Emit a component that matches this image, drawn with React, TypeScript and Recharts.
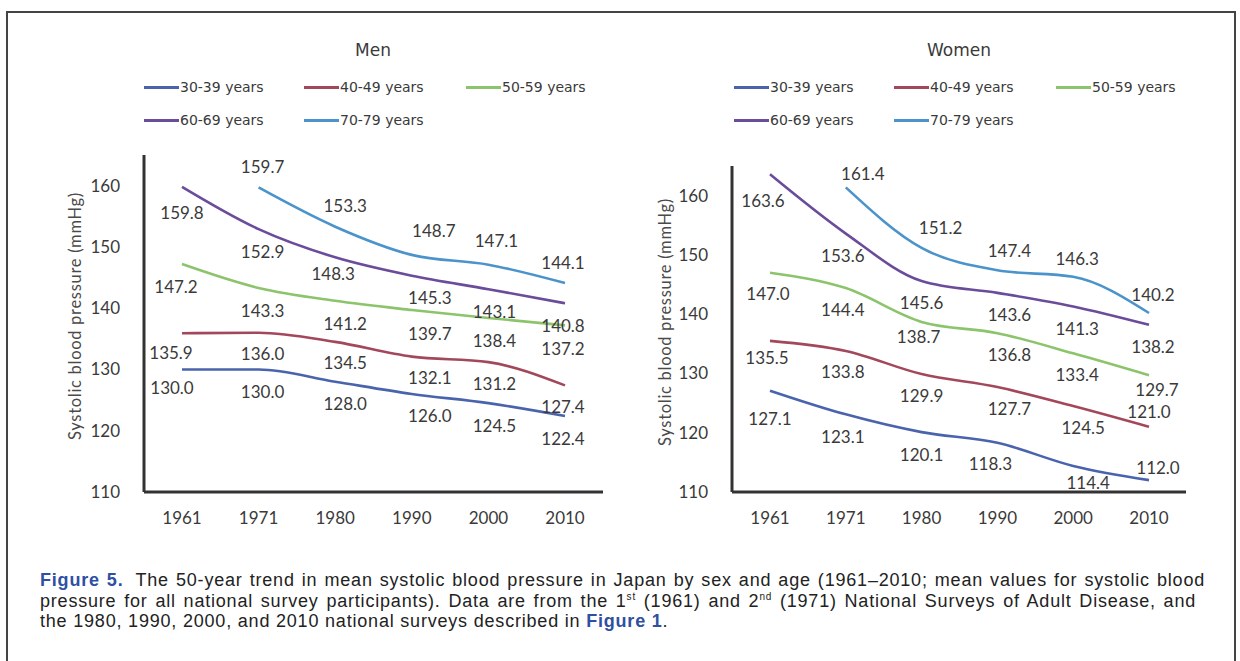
import { LineChart, Line, XAxis, YAxis, LabelList } from 'recharts';

const years = ['1961', '1971', '1980', '1990', '2000', '2010'];
const ageGroups = ['30-39 years', '40-49 years', '50-59 years', '60-69 years', '70-79 years'];
const yTicks = [110, 120, 130, 140, 150, 160];

// Men, mean systolic BP (mmHg)
const men3039 = [130.0, 130.0, 128.0, 126.0, 124.5, 122.4];
const men4049 = [135.9, 136.0, 134.5, 132.1, 131.2, 127.4];
const men5059 = [147.2, 143.3, 141.2, 139.7, 138.4, 137.2];
const men6069 = [159.8, 152.9, 148.3, 145.3, 143.1, 140.8];
const men7079 = [null, 159.7, 153.3, 148.7, 147.1, 144.1];

// Women, mean systolic BP (mmHg)
const women3039 = [127.1, 123.1, 120.1, 118.3, 114.4, 112.0];
const women4049 = [135.5, 133.8, 129.9, 127.7, 124.5, 121.0];
const women5059 = [147.0, 144.4, 138.7, 136.8, 133.4, 129.7];
const women6069 = [163.6, 153.6, 145.6, 143.6, 141.3, 138.2];
const women7079 = [null, 161.4, 151.2, 147.4, 146.3, 140.2];

const lineColors = ['#4a63ad', '#a3485b', '#8cc46c', '#6a4c9b', '#4b93cb'];

const textColor = '#3a3a3a';
const axisColor = '#333333';

type Row = Record<string, string | number | null>;

function toRows(series: (number | null)[][]): Row[] {
  return years.map((year, i) => {
    const row: Row = { year };
    series.forEach((s, k) => {
      row['s' + k] = s[i];
    });
    return row;
  });
}

const menRows = toRows([men3039, men4049, men5059, men6069, men7079]);
const womenRows = toRows([women3039, women4049, women5059, women6069, women7079]);

// label placement: horizontal nudge per year, vertical per series,
// and a few per-point exceptions keyed "series-index"
type Placement = {
  colDx: number[];
  rowDy: number[];
  tweak: Record<string, number[]>;
};

const menPlacement: Placement = {
  colDx: [-8, 4, 10, 18, 6, -2],
  rowDy: [22, 21, 23, 22, -21],
  tweak: {
    '0-0': [-10, 18],
    '1-0': [-11, 19],
    '2-0': [-6, 22],
    '3-0': [0, 26],
    '3-2': [-2, 16],
    '4-3': [22, -24],
    '4-4': [8, -24],
  },
};

const womenPlacement: Placement = {
  colDx: [-2, -3, 0, 12, 4, 4],
  rowDy: [22, 21, 21, 22, -18],
  tweak: {
    '0-0': [0, 28],
    '1-0': [-3, 17],
    '3-0': [-7, 26],
    '4-1': [17, -14],
    '4-2': [19, -20],
    '4-3': [12, -20],
    '2-2': [-3, 15],
    '0-3': [-7, 21],
    '0-4': [15, 17],
    '1-4': [10, 21],
    '0-5': [9, -13],
    '1-5': [0, -15],
    '2-5': [8, 14],
  },
};

function valueLabel(series: number, place: Placement) {
  return (props: any) => {
    const box = props.viewBox || {};
    const px = Number(props.x ?? box.x);
    const py = Number(props.y ?? box.y);
    if (props.value == null || isNaN(px) || isNaN(py)) return null;
    const idx = Number(props.index);
    const [dx, dy] = place.tweak[series + '-' + idx] ?? [place.colDx[idx] ?? 0, place.rowDy[series]];
    return (
      <text
        x={px + dx}
        y={py + dy}
        textAnchor='middle'
        dominantBaseline='central'
        fill={textColor}
        fontSize={17}
        fontFamily='Lato, sans-serif'
      >
        {Number(props.value).toFixed(1)}
      </text>
    );
  };
}

function Legend({ left }: { left: number }) {
  const slots = [
    [0, 0], [160, 0], [322, 0],
    [0, 33], [160, 33],
  ];
  return (
    <>
      {ageGroups.map((name, i) => (
        <div
          key={name}
          style={{
            position: 'absolute',
            left: left + slots[i][0],
            top: 79 + slots[i][1],
            display: 'flex',
            alignItems: 'center',
            fontFamily: '"DejaVu Sans", sans-serif',
            fontSize: 14,
            color: textColor,
            whiteSpace: 'nowrap',
          }}
        >
          <span style={{ display: 'inline-block', width: 35, height: 3, background: lineColors[i] }} />
          <span style={{ marginLeft: 1 }}>{name}</span>
        </div>
      ))}
    </>
  );
}

type PanelProps = {
  title: string;
  rows: Row[];
  left: number;
  width: number;
  top: number;
  axisWidth: number;
  right: number;
  padRight: number;
  place: Placement;
  titleX: number;
  labelX: number;
  labelY: number;
};

function Panel(p: PanelProps) {
  return (
    <>
      <div
        style={{
          position: 'absolute',
          left: p.titleX - 100,
          width: 200,
          top: 40,
          textAlign: 'center',
          fontFamily: '"DejaVu Sans", sans-serif',
          fontSize: 17,
          color: textColor,
        }}
      >
        {p.title}
      </div>

      <div
        style={{
          position: 'absolute',
          left: p.labelX - 160,
          top: p.labelY - 10,
          width: 320,
          height: 20,
          lineHeight: '20px',
          textAlign: 'center',
          transform: 'rotate(-90deg)',
          fontFamily: 'Lato, sans-serif',
          fontSize: 16.5,
          letterSpacing: 0.7,
          color: '#4a4a4a',
        }}
      >
        Systolic blood pressure (mmHg)
      </div>

      <div style={{ position: 'absolute', left: p.left, top: 0 }}>
        <LineChart
          width={p.width}
          height={560}
          data={p.rows}
          margin={{ top: p.top, right: p.right, bottom: 28, left: 0 }}
        >
          <XAxis
            dataKey='year'
            height={40}
            padding={{ left: 38, right: p.padRight }}
            axisLine={{ stroke: axisColor, strokeWidth: 3 }}
            tickLine={false}
            tickSize={0}
            tickMargin={20}
            tick={{ fill: textColor, fontSize: 17, fontFamily: 'Lato, sans-serif' }}
          />
          <YAxis
            width={p.axisWidth}
            domain={[110, 165]}
            ticks={yTicks}
            axisLine={{ stroke: axisColor, strokeWidth: 3 }}
            tickLine={false}
            tickSize={0}
            tickMargin={24}
            tick={{ fill: textColor, fontSize: 17, fontFamily: 'Lato, sans-serif' }}
          />
          {ageGroups.map((name, i) => (
            <Line
              key={name}
              dataKey={'s' + i}
              name={name}
              type='monotone'
              stroke={lineColors[i]}
              strokeWidth={2.6}
              dot={false}
              isAnimationActive={false}
            >
              <LabelList dataKey={'s' + i} content={valueLabel(i, p.place)} />
            </Line>
          ))}
        </LineChart>
      </div>
    </>
  );
}

const captionLine = {
  position: 'absolute' as const,
  left: 40,
  whiteSpace: 'nowrap' as const,
  fontFamily: '"Liberation Sans", Arial, sans-serif',
  fontSize: 18,
  lineHeight: '20px',
  letterSpacing: 0.8,
  color: '#222',
};

const figBlue = { color: '#2f4fa2', fontWeight: 'bold' as const };

export default function App() {
  return (
    <div
      style={{
        position: 'absolute',
        left: 0,
        top: 0,
        width: 1240,
        height: 661,
        background: '#ffffff',
        overflow: 'hidden',
      }}
    >
      <div
        style={{
          position: 'absolute',
          left: 6,
          top: 11,
          width: 1226,
          height: 700,
          border: '2px solid #444',
        }}
      />

      <Legend left={144} />
      <Legend left={734} />

      <Panel
        title='Men'
        rows={menRows}
        left={0}
        width={640}
        top={155}
        axisWidth={144}
        right={37}
        padRight={38}
        place={menPlacement}
        titleX={373}
        labelX={75}
        labelY={316}
      />
      <Panel
        title='Women'
        rows={womenRows}
        left={620}
        width={620}
        top={166}
        axisWidth={112}
        right={54}
        padRight={37}
        place={womenPlacement}
        titleX={959}
        labelX={665}
        labelY={322}
      />

      <div style={{ ...captionLine, top: 570, width: 1165, textAlign: 'justify', textAlignLast: 'justify' }}>
        <span style={figBlue}>Figure 5.</span>
        <span style={{ display: 'inline-block', width: 12 }} />
        The 50-year trend in mean systolic blood pressure in Japan by sex and age (1961–2010; mean values for systolic blood
      </div>
      <div style={{ ...captionLine, top: 591, width: 1156, textAlign: 'justify', textAlignLast: 'justify' }}>
        pressure for all national survey participants). Data are from the 1
        <sup style={{ fontSize: 10, lineHeight: 0 }}>st</sup> (1961) and 2
        <sup style={{ fontSize: 10, lineHeight: 0 }}>nd</sup> (1971) National Surveys of Adult Disease, and
      </div>
      <div style={{ ...captionLine, top: 611 }}>
        the 1980, 1990, 2000, and 2010 national surveys described in <span style={figBlue}>Figure 1</span>.
      </div>
    </div>
  );
}
